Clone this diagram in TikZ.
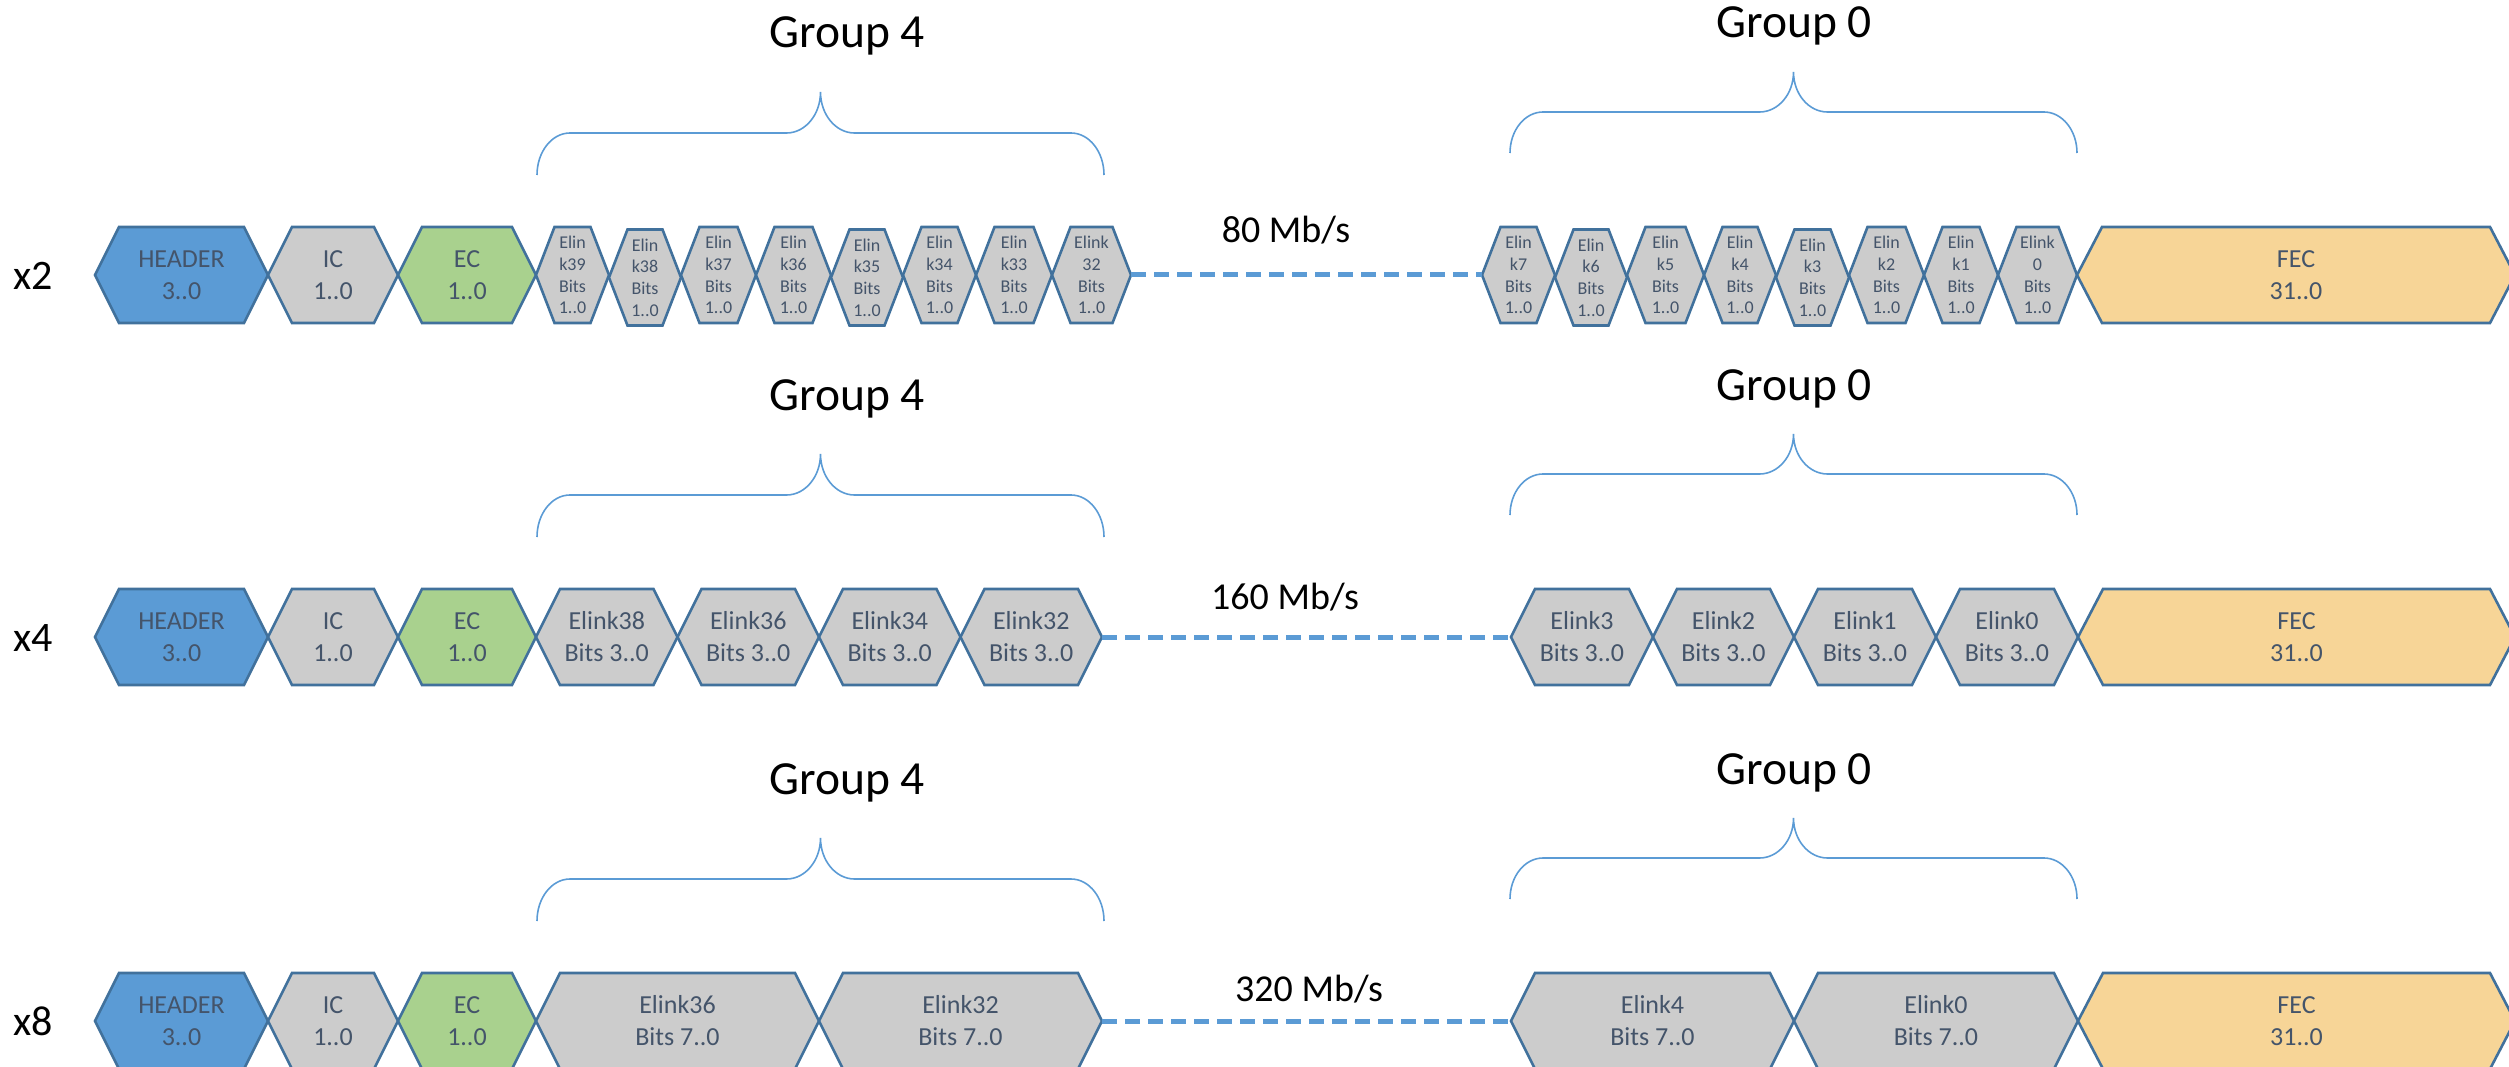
\documentclass[tikz,border=0pt]{standalone}
\usepackage{fontspec}
\setmainfont{Carlito}
\usetikzlibrary{calc}
\definecolor{hdrblue}{HTML}{5B9BD5}
\definecolor{boxgray}{HTML}{CCCCCC}
\definecolor{ecgreen}{HTML}{A9D18E}
\definecolor{fecgold}{HTML}{F7D597}
\definecolor{edgeblue}{HTML}{41719C}
\definecolor{txtslate}{HTML}{44546A}
\definecolor{bracecol}{HTML}{5B9BD5}
\tikzset{
  hexline/.style={draw=edgeblue,line width=2.6pt,line join=miter},
  hextext/.style={inner sep=0pt,outer sep=0pt,align=center,text=txtslate,font=\fontsize{26}{32}\selectfont},
  smalltext/.style={font=\fontsize{18}{21.7}\selectfont},
  dashline/.style={draw=hdrblue,line width=5pt,dash pattern=on 15pt off 8pt},
  bracel/.style={draw=bracecol,line width=1.6pt},
  grplab/.style={font=\fontsize{47.5}{52}\selectfont,anchor=base},
  ratelab/.style={font=\fontsize{38}{42}\selectfont,anchor=base},
  rowlab/.style={font=\fontsize{42}{46}\selectfont,anchor=base west}
}
\newcommand{\hexbox}[8]{%
  \filldraw[hexline,fill=#5] (#2,#4) -- ({#2+#6},{#4-48}) -- ({#3-#6},{#4-48}) -- (#3,#4) -- ({#3-#6},{#4+48}) -- ({#2+#6},{#4+48}) -- cycle;
  \node[hextext,#7,minimum width={(#3-#2)*1pt},minimum height=96pt] (#1) at ({(#2+#3)/2},#4) {#8};
}
\newcommand{\grpbrace}[6]{%
  \draw[bracel] (#1,#4) .. controls (#1,{#4-0.552*(#4-#5)}) and ({#1+33-0.552*33},#5) .. ({#1+33},#5)
   -- ({#3-34},#5) .. controls ({#3-34+0.552*34},#5) and (#3,{#6+0.552*(#5-#6)}) .. (#3,#6)
   .. controls (#3,{#6+0.552*(#5-#6)}) and ({#3+34-0.552*34},#5) .. ({#3+34},#5)
   -- ({#2-33},#5) .. controls ({#2-33+0.552*33},#5) and (#2,{#4-0.552*(#4-#5)}) .. (#2,#4);
}
\begin{document}
\begin{tikzpicture}[x=1pt,y=-1pt]
\useasboundingbox (0,0) rectangle (2509,1067);

% ---------------- Row 1 (x2) ----------------
\node[rowlab] (lx2) at (10,290) {x2};
\hexbox{h1}{95}{268}{275}{hdrblue}{24}{}{HEADER\\3..0}
\hexbox{ic1}{268}{398}{275}{boxgray}{24}{}{IC\\1..0}
\hexbox{ec1}{398}{536}{275}{ecgreen}{24}{}{EC\\1..0}
\foreach \a/\b/\n/\y in {536/609/39/275,609/681/38/277.5,681/756/37/275,756/831/36/275,831/903/35/277.5,903/976/34/275,976/1052/33/275}{
  \hexbox{ea\n}{\a}{\b}{\y}{boxgray}{18.5}{smalltext}{Elin\\k\n\\Bits\\1..0}
}
\hexbox{ea32}{1052}{1131}{275}{boxgray}{18.5}{smalltext}{Elink\\32\\Bits\\1..0}
\foreach \a/\b/\n/\y in {1482/1555/7/275,1555/1627/6/277.5,1627/1704/5/275,1704/1776/4/275,1776/1849/3/277.5,1849/1924/2/275,1924/1998/1/275}{
  \hexbox{ea\n}{\a}{\b}{\y}{boxgray}{18.5}{smalltext}{Elin\\k\n\\Bits\\1..0}
}
\hexbox{ea0}{1998}{2077}{275}{boxgray}{18.5}{smalltext}{Elink\\0\\Bits\\1..0}
\hexbox{fec1}{2077}{2515}{275}{fecgold}{25}{}{FEC\\31..0}
\draw[dashline] (ea32.east) -- (ea7.west);
\node[ratelab] (rate1) at (1286,243) {80 Mb/s};
\grpbrace{537}{1104}{820.5}{175}{133}{92}
\node[grplab] (g4a) at (847,48) {Group 4};
\grpbrace{1510}{2077}{1793.5}{153}{112}{72}
\node[grplab] (g0a) at (1794,38) {Group 0};

% ---------------- Row 2 (x4) ----------------
\node[rowlab] (lx4) at (10,651) {x4};
\hexbox{h2}{95}{268}{637}{hdrblue}{24}{}{HEADER\\3..0}
\hexbox{ic2}{268}{398}{637}{boxgray}{24}{}{IC\\1..0}
\hexbox{ec2}{398}{536}{637}{ecgreen}{24}{}{EC\\1..0}
\foreach \a/\b/\n in {536/677.5/38,677.5/819/36,819/960.5/34,960.5/1102/32}{
  \hexbox{eb\n}{\a}{\b}{637}{boxgray}{24}{}{Elink\n\\Bits 3..0}
}
\foreach \a/\b/\n in {1511/1653/3,1653/1794/2,1794/1936/1,1936/2078/0}{
  \hexbox{eb\n}{\a}{\b}{637}{boxgray}{24}{}{Elink\n\\Bits 3..0}
}
\hexbox{fec2}{2078}{2515}{637}{fecgold}{25}{}{FEC\\31..0}
\draw[dashline] (eb32.east) -- (eb3.west);
\node[ratelab] (rate2) at (1285,609) {160 Mb/s};
\grpbrace{537}{1104}{820.5}{537}{495}{454}
\node[grplab] (g4b) at (847,410) {Group 4};
\grpbrace{1510}{2077}{1793.5}{515}{474}{434}
\node[grplab] (g0b) at (1794,400) {Group 0};

% ---------------- Row 3 (x8) ----------------
\node[rowlab] (lx8) at (10,1035) {x8};
\hexbox{h3}{95}{268}{1021}{hdrblue}{24}{}{HEADER\\3..0}
\hexbox{ic3}{268}{398}{1021}{boxgray}{24}{}{IC\\1..0}
\hexbox{ec3}{398}{536}{1021}{ecgreen}{24}{}{EC\\1..0}
\hexbox{ec36}{536}{819}{1021}{boxgray}{24}{}{Elink36\\Bits 7..0}
\hexbox{ec32}{819}{1102}{1021}{boxgray}{24}{}{Elink32\\Bits 7..0}
\hexbox{ec4}{1511}{1794}{1021}{boxgray}{24}{}{Elink4\\Bits 7..0}
\hexbox{ec0}{1794}{2078}{1021}{boxgray}{24}{}{Elink0\\Bits 7..0}
\hexbox{fec3}{2078}{2515}{1021}{fecgold}{25}{}{FEC\\31..0}
\draw[dashline] (ec32.east) -- (ec4.west);
\node[ratelab] (rate3) at (1309,1001) {320 Mb/s};
\grpbrace{537}{1104}{820.5}{921}{879}{838}
\node[grplab] (g4c) at (847,794) {Group 4};
\grpbrace{1510}{2077}{1793.5}{899}{858}{818}
\node[grplab] (g0c) at (1794,784) {Group 0};
\end{tikzpicture}
\end{document}
